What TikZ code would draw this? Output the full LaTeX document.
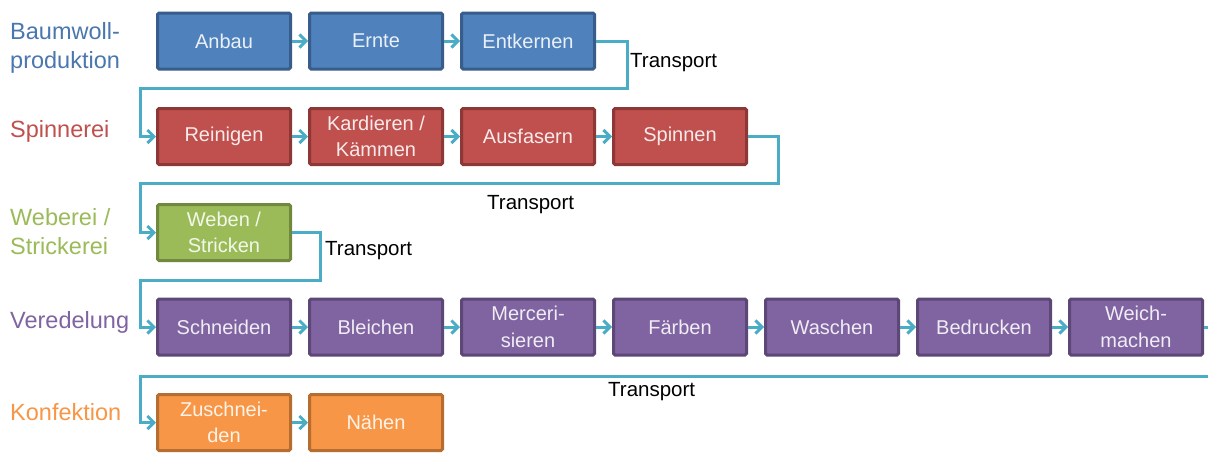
\documentclass[tikz,border=0pt]{standalone}
\usepackage{fontspec}
\setmainfont{Liberation Sans}
\usetikzlibrary{arrows.meta}

\definecolor{bwfill}{HTML}{4F81BD}\definecolor{bwline}{HTML}{385D8A}
\definecolor{spfill}{HTML}{C0504D}\definecolor{spline}{HTML}{8C3836}
\definecolor{wbfill}{HTML}{9BBB59}\definecolor{wbline}{HTML}{71893F}
\definecolor{vdfill}{HTML}{8064A2}\definecolor{vdline}{HTML}{5C4776}
\definecolor{kffill}{HTML}{F79646}\definecolor{kfline}{HTML}{B66D31}
\definecolor{flow}{HTML}{4BACC6}

\tikzset{
  stepbox/.style={rectangle, rounded corners=1.5pt, line width=3pt,
    minimum width=133pt, minimum height=56pt, inner sep=0pt, align=center,
    font=\fontsize{20}{26.5}\selectfont},
  bw/.style={stepbox, fill=bwfill, draw=bwline, text=bwfill!12!white},
  sp/.style={stepbox, fill=spfill, draw=spline, text=spfill!12!white},
  wb/.style={stepbox, fill=wbfill, draw=wbline, text=wbfill!12!white},
  vd/.style={stepbox, fill=vdfill, draw=vdline, text=vdfill!12!white},
  kf/.style={stepbox, fill=kffill, draw=kfline, text=kffill!12!white},
  phase/.style={anchor=west, align=left, inner sep=0pt,
    font=\fontsize{23.5}{29}\selectfont},
  flowline/.style={draw=flow, line width=3pt,
    -{Straight Barb[length=6.5pt,width=13pt,line width=3pt]}},
  transport/.style={draw=flow, line width=3pt},
  tlabel/.style={anchor=west, inner sep=0pt, font=\fontsize{20.5}{24}\selectfont}
}

\begin{document}
\begin{tikzpicture}[x=1pt,y=-1pt]
\clip (0,0) rectangle (1208,453);
\fill[white] (0,0) rectangle (1208,453);

% phase labels
\node[phase, text=bwfill!92!black] (lbw) at (10,48) {Baumwoll-\\produktion};
\node[phase, text=spfill] (lsp) at (10,131) {Spinnerei};
\node[phase, text=wbfill] (lwb) at (10,232) {Weberei /\\Strickerei};
\node[phase, text=vdfill] (lvd) at (10,322) {Veredelung};
\node[phase, text=kffill] (lkf) at (10,412) {Konfektion};

% Baumwollproduktion
\node[bw] (anbau) at (224,41) {Anbau};
\node[bw] (ernte) at (376,41) {Ernte};
\node[bw] (entk)  at (528,41) {Entkernen};

% Spinnerei
\node[sp] (rein) at (224,136.5) {Reinigen};
\node[sp] (kard) at (376,136.5) {Kardieren /\\Kämmen};
\node[sp] (ausf) at (528,136.5) {Ausfasern};
\node[sp] (spin) at (680,136.5) {Spinnen};

% Weberei / Strickerei
\node[wb] (web) at (224,232.5) {Weben /\\Stricken};

% Veredelung
\node[vd] (schn) at (224,327) {Schneiden};
\node[vd] (blei) at (376,327) {Bleichen};
\node[vd] (merc) at (528,327) {Merceri-\\sieren};
\node[vd] (faer) at (680,327) {Färben};
\node[vd] (wasch) at (832,327) {Waschen};
\node[vd] (bedr) at (984,327) {Bedrucken};
\node[vd] (weich) at (1136,327) {Weich-\\machen};

% Konfektion
\node[kf] (zusch) at (224,422.5) {Zuschnei-\\den};
\node[kf] (naeh)  at (376,422.5) {Nähen};

% steps within a phase
\foreach \a/\b in {anbau/ernte, ernte/entk, rein/kard, kard/ausf, ausf/spin,
                   schn/blei, blei/merc, merc/faer, faer/wasch, wasch/bedr,
                   bedr/weich, zusch/naeh}
  \draw[flowline] (\a.east) -- (\b.west);

% transport between phases
\coordinate (t1) at (627,88);
\coordinate (t2) at (778,183);
\coordinate (t3) at (320,280);
\coordinate (t4) at (1240,376);
\coordinate (t5) at (1240,327);

\draw[flowline] (entk.east) -| (t1) -- (140,88) |- (rein.west);
\draw[flowline] (spin.east) -| (t2) -- (140,183) |- (web.west);
\draw[flowline] (web.east) -| (t3) -- (140,280) |- (schn.west);
\draw[transport] (weich.east) -- (t5);
\draw[flowline] (t4) -- (140,376) |- (zusch.west);

% transport labels
\node[tlabel] (tr1) at (630,63) {Transport};
\node[tlabel] (tr2) at (487,205) {Transport};
\node[tlabel] (tr3) at (325,251) {Transport};
\node[tlabel] (tr4) at (608,392) {Transport};
\end{tikzpicture}
\end{document}
